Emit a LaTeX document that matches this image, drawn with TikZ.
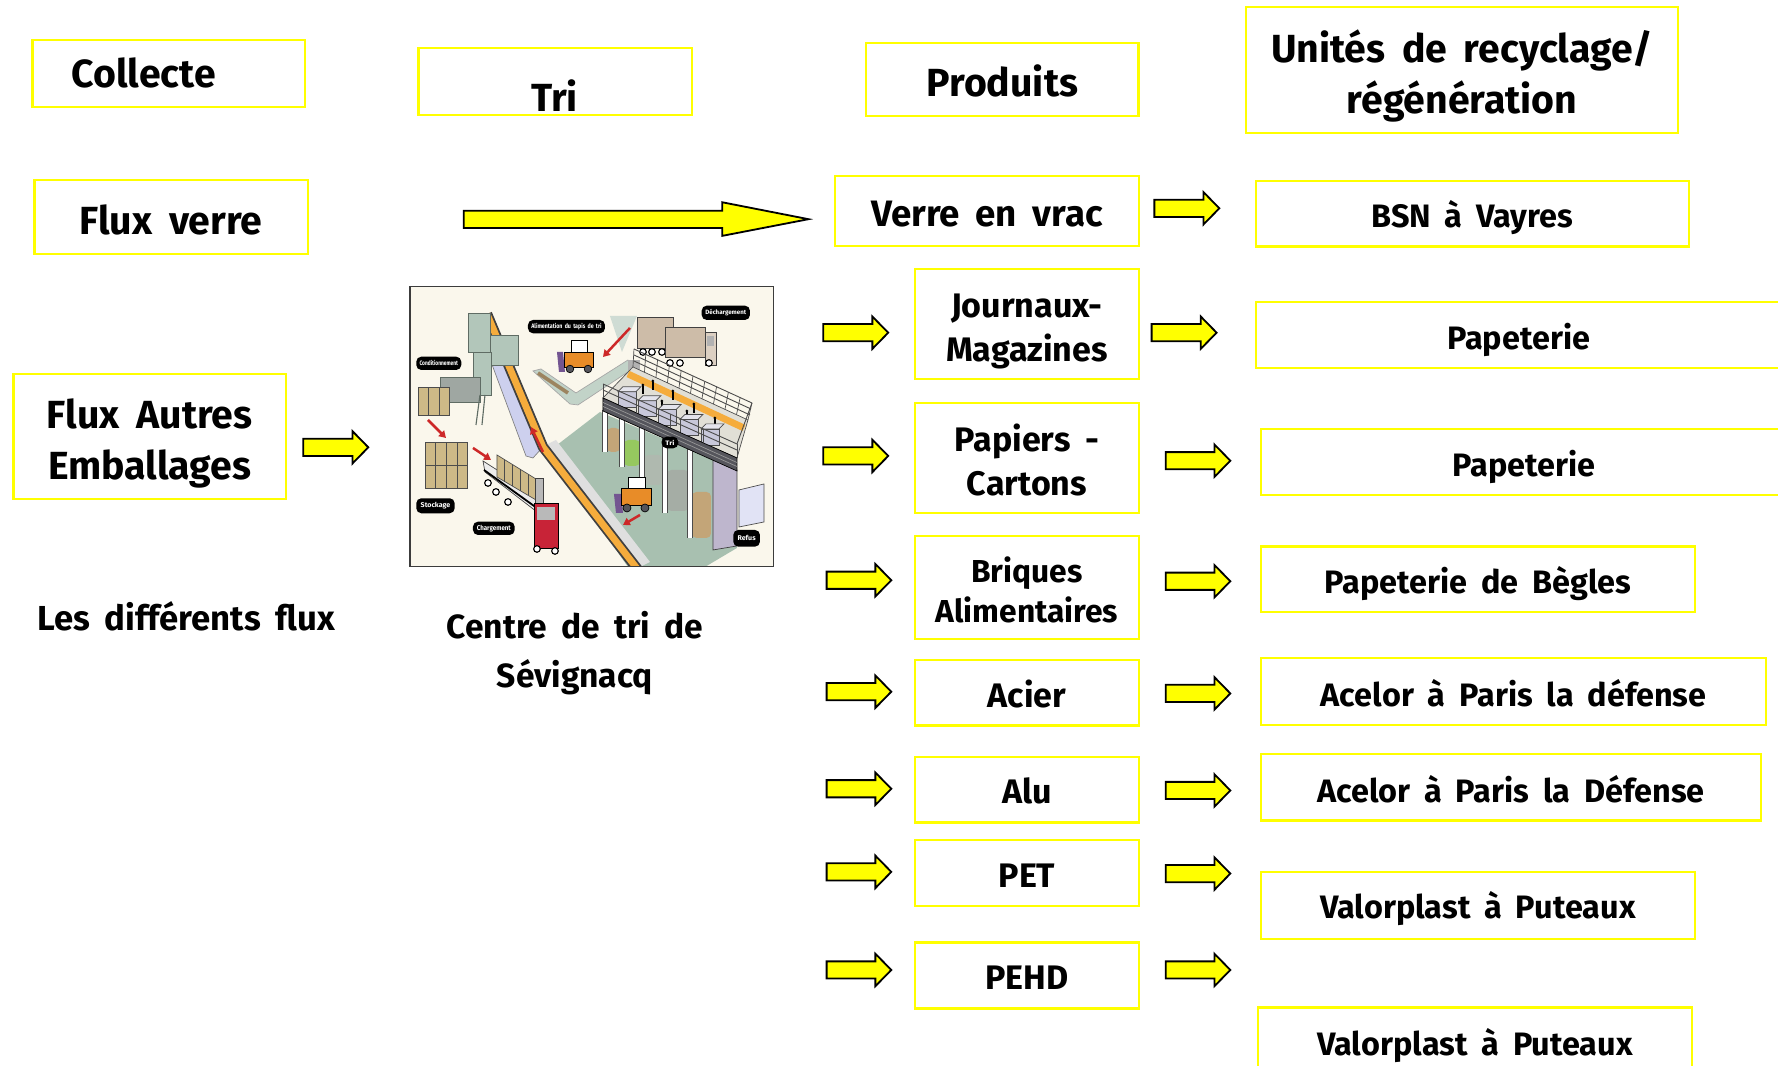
\documentclass[tikz,border=0pt]{standalone}
\usepackage{fontspec}
\setmainfont{Fira Sans}[WordSpace=1.8]
\usetikzlibrary{arrows.meta,calc}
\definecolor{byel}{RGB}{255,255,0}
\definecolor{cream}{RGB}{250,247,236}
\definecolor{floorg}{RGB}{168,192,176}
\definecolor{beltor}{RGB}{245,172,60}
\definecolor{lav}{RGB}{205,208,238}
\definecolor{mach}{RGB}{178,198,186}
\definecolor{machd}{RGB}{95,108,100}
\definecolor{bale}{RGB}{205,185,135}
\definecolor{truckb}{RGB}{205,188,168}
\definecolor{redt}{RGB}{200,35,55}
\definecolor{loador}{RGB}{232,140,40}
\definecolor{bladep}{RGB}{115,85,145}
\definecolor{deckd}{RGB}{85,85,92}
\definecolor{boxc}{RGB}{200,200,218}
\definecolor{wallc}{RGB}{190,182,205}
\definecolor{redarr}{RGB}{205,40,40}
\definecolor{pileg}{RGB}{150,200,95}
\definecolor{pilet}{RGB}{195,165,120}
\definecolor{pilegr}{RGB}{175,185,175}
\definecolor{frame}{RGB}{60,60,60}

\tikzset{
  ybox/.style={draw=byel, line width=1pt, inner sep=0pt},
  txt/.style={inner sep=0pt, align=center, text=black},
  hdr/.style={font=\fontsize{17.3}{22.4}\selectfont\bfseries},
  vrc/.style={font=\fontsize{16.2}{20}\selectfont\bfseries},
  prd/.style={font=\fontsize{15}{19.6}\selectfont\bfseries},
  brq/.style={font=\fontsize{14}{18}\selectfont\bfseries},
  dst/.style={font=\fontsize{14.3}{18}\selectfont\bfseries},
  capt/.style={font=\fontsize{15.3}{21.3}\selectfont\bfseries, align=center, inner sep=0pt},
  capc/.style={font=\fontsize{14.8}{21.3}\selectfont\bfseries, align=center, inner sep=0pt},
  arr/.style={draw=black, fill=byel, line width=0.8pt, line join=miter},
  pill/.style={fill=black, rounded corners=2.2pt, inner sep=0pt, text=white, font=\bfseries},
  redar/.style={draw=redarr, line width=1.1pt, -{Triangle[length=3pt,width=3.5pt]}},
  thinl/.style={line width=0.3pt},
  pics/barrow/.style={code={
    \draw[arr] (0,-7.6) -- ({#1-14},-7.6) -- ({#1-14},-14.3) -- (#1,0)
      -- ({#1-14},14.3) -- ({#1-14},7.6) -- (0,7.6) -- cycle;}},
}

% box from its corners, with its text shifted down by #7
\newcommand\ybox[8][]{\node[ybox,minimum width={(#5-#3)*0.5pt},minimum height={(#6-#4)*0.5pt}] (#2) at ({(#3+#5)/2},{(#4+#6)/2}) {};
\node[txt,#1] (#2-t) at ($(#2.center)+(0,#7)$) {#8};}
\newcommand\pill[7]{\node[pill, minimum width={(#4-#2)*0.44092pt}, minimum height={(#5-#3)*0.44092pt}] (#1) at ({(#2+#4)/2},{(#3+#5)/2}) {\resizebox{#6}{2.3pt}{#7}};}

\begin{document}
\begin{tikzpicture}[x=0.5pt,y=-0.5pt]
\useasboundingbox (0,0) rectangle (1568,940);
\fill[white] (0,0) rectangle (1568,940);

% ---------------- headers ----------------
\node[ybox, minimum width={240.5*0.5pt}, minimum height={59.3*0.5pt}] (bCollecte) at (149,65) {};
\node[txt, hdr] (tCollecte) at (126.6,64) {Collecte};
\node[ybox, minimum width={241.5*0.5pt}, minimum height={58.8*0.5pt}] (bTri) at (489.7,72) {};
\node[txt, hdr] (tTri) at (489,84) {Tri};
\ybox[hdr]{bProduits}{764}{38}{1004}{102}{1.5}{Produits}
\ybox[hdr]{bUnites}{1098.8}{6.5}{1480}{117.6}{5}{Unités de recyclage/\\régénération}

% ---------------- flows ----------------
\ybox[hdr]{bFluxVerre}{30.4}{158.7}{271.3}{224.3}{2.5}{Flux verre}
\ybox[hdr]{bFluxAutres}{11.8}{329.8}{252.2}{440.3}{6}{Flux Autres\\Emballages}
\node[capt, anchor=base west] (cFlux) at (32.3,555.6) {Les différents flux};
\node[capc] (cCentre) at (507,576) {Centre de tri de\\Sévignacq};

% ---------------- products ----------------
\ybox[vrc]{pVerre}{736.3}{155.2}{1004.4}{216.9}{3}{Verre en vrac}
\ybox[prd]{pJournaux}{806.9}{237.2}{1004.4}{334.5}{6.5}{Journaux-\\Magazines}
\ybox[prd]{pPapiers}{806.9}{355.1}{1004.4}{452.1}{2}{Papiers -\\Cartons}
\ybox[brq]{pBriques}{806.9}{472.8}{1004.4}{563.8}{2}{Briques\\Alimentaires}
\ybox[prd]{pAcier}{806.9}{581.9}{1004.4}{639.8}{1}{Acier}
\ybox[prd]{pAlu}{806.9}{667.3}{1004.4}{725.4}{1.5}{Alu}
\ybox[prd]{pPET}{806.9}{740.8}{1004.4}{799}{2}{PET}
\ybox[prd]{pPEHD}{806.9}{831.2}{1004.4}{889.4}{2}{PEHD}

% ---------------- destinations ----------------
\ybox[dst]{dBSN}{1107.6}{159.5}{1489.5}{217.5}{3.5}{BSN à Vayres}
\ybox[dst]{dPap1}{1107.6}{266.6}{1571}{324.8}{4}{Papeterie}
\ybox[dst]{dPap2}{1112}{378.2}{1576}{436.7}{4}{Papeterie}
\ybox[dst]{dBegles}{1112}{482}{1494.5}{540}{4}{Papeterie de Bègles}
\ybox[dst]{dAcelorA}{1112}{580.5}{1557.7}{639.3}{1.5}{Acelor à Paris la défense}
\ybox[dst]{dAcelorB}{1112}{664.8}{1552.8}{723.6}{1.5}{Acelor à Paris la Défense}
\ybox[dst]{dValorA}{1112}{769.3}{1494.5}{827.8}{3}{Valorplast à Puteaux}
\ybox[dst]{dValorB}{1109.5}{888.5}{1492}{952}{1.5}{Valorplast à Puteaux}

% ---------------- block arrows ----------------
\draw[arr] (409,185.8) -- (637,185.8) -- (637,178.4) -- (713,193.3)
  -- (637,208) -- (637,201.1) -- (409,201.1) -- cycle;
\pic (aFA) at (267.5,394.5) {barrow=57.3};
\pic (aInJ) at (726,293.4) {barrow=57.3};
\pic (aInP) at (726,402.1) {barrow=57.3};
\pic (aInB) at (729,511.7) {barrow=57};
\pic (aInAc) at (729,610) {barrow=57};
\pic (aInAl) at (729,695.6) {barrow=57};
\pic (aInPet) at (729,768.9) {barrow=57};
\pic (aInPehd) at (729,855.4) {barrow=57};
\pic (aOutV) at (1018,183.7) {barrow=57.3};
\pic (aOutJ) at (1015.6,293.4) {barrow=57.3};
\pic (aOutP) at (1028,406.3) {barrow=57};
\pic (aOutB) at (1028,512.6) {barrow=57};
\pic (aOutAc) at (1028,611.5) {barrow=57};
\pic (aOutAl) at (1028,697.1) {barrow=57};
\pic (aOutPet) at (1028,770.4) {barrow=57};
\pic (aOutPehd) at (1028,855.4) {barrow=57};

% ---------------- illustration of the sorting centre ----------------
\begin{scope}[x=0.44092pt,y=-0.44092pt]
\begin{scope}
\clip (410,287) rectangle (773,567);
\fill[cream] (410,287) rectangle (773,567);
% floor
\fill[floorg] (548,452) -- (600,412) -- (737,470) -- (737,548) -- (705,567) -- (628,567) -- cycle;
% light beam near the trucks
\fill[floorg!55] (610,316) -- (637,316) -- (622,352) -- cycle;
% feeding tray
\filldraw[fill=floorg!70, draw=gray!70, thinl] (533,371) -- (541,369) -- (576,393) -- (628,360) -- (634,368) -- (578,405) -- (570,404) -- cycle;
\draw[pilet!80!black, line width=1.6pt] (538,373) -- (568,393);
\fill[gray!60] (628,360) rectangle (640,372);
% lavender side panel of the belt
\filldraw[fill=lav, draw=gray, thinl] (474,316) -- (486,316) -- (543,447) -- (533,458) -- (526,456) -- cycle;
% ramp beside the lower belt
\fill[gray!25] (546,445) -- (556,440) -- (650,562) -- (640,567) -- cycle;
% belt
\draw[line width=4.6pt, gray!50!black] (487,314) -- (543,447) -- (642,575);
\draw[line width=3pt, beltor] (487,314) -- (543,447) -- (642,575);
% baler
\filldraw[fill=mach, draw=machd, thinl] (490,335) rectangle (518,365);
\filldraw[fill=mach, draw=machd, thinl] (468,313) rectangle (490,352);
\filldraw[fill=mach, draw=machd, thinl] (473,352) rectangle (491,395);
\filldraw[fill=machd!60, draw=machd, thinl] (440,377) rectangle (480,402);
\draw[machd, line width=0.5pt] (480,395) -- (476,425) (485,395) -- (482,425);
% bales
\foreach \i in {0,1,2} {\filldraw[fill=bale, draw=gray!60!black, thinl] ({418+10.6*\i},387) rectangle ++(10.6,28);}
\foreach \i in {0,1,2,3} {\filldraw[fill=bale, draw=gray!60!black, thinl] ({425+10.7*\i},442) rectangle ++(10.7,23);
  \filldraw[fill=bale, draw=gray!60!black, thinl] ({425+10.7*\i},465) rectangle ++(10.7,23);}
% trucks (unloading)
\filldraw[fill=truckb, draw=gray!50!black, thinl] (637,317) rectangle (673,348);
\foreach \xx in {643,652,662} {\filldraw[fill=white, draw=black, line width=0.5pt] (\xx,352) circle (3.3);}
\filldraw[fill=truckb, draw=gray!50!black, thinl] (665,327) rectangle (705,357);
\filldraw[fill=truckb!70!white, draw=gray!50!black, thinl] (705,332) rectangle (716,365);
\fill[gray!60] (707,336) rectangle (714,346);
\foreach \xx in {670,680,709} {\filldraw[fill=white, draw=black, line width=0.5pt] (\xx,363) circle (3.3);}
% loader (top)
\fill[bladep] (557,352) -- (563,352) -- (565,372) -- (559,372) -- cycle;
\filldraw[fill=loador, draw=black, thinl] (564,352) rectangle (593,367);
\filldraw[fill=white, draw=black, thinl] (571,340) rectangle (587,352);
\foreach \xx in {570,588} {\filldraw[fill=deckd, draw=black, thinl] (\xx,369) circle (3.8);}
% red arrows
\draw[redar] (428,420) -- (446,438);
\draw[redar] (473,448) -- (491,460);
\draw[redar] (543,452) -- (531,427);
\draw[redar] (630,328) -- (603,357);
\draw[redar] (640,515) -- (623,525);
% piles under the sorting deck
\fill[pilet, rounded corners=2pt] (607,428) rectangle (620,452);
\fill[pileg, rounded corners=2pt] (624,440) rectangle (640,466);
\fill[pilegr, rounded corners=2pt] (644,455) rectangle (663,485);
\fill[pilegr!80!gray, rounded corners=2pt] (667,470) rectangle (689,511);
\fill[pilet, rounded corners=2pt] (692,492) rectangle (711,538);
% posts
\foreach \xx/\ya/\yb in {605/410/452, 622/418/467, 642/427/486, 665/437/513, 690/448/538} {
  \draw[gray!60!black, line width=2.4pt] (\xx,\ya) -- (\xx,\yb);
  \draw[white, line width=1.5pt] (\xx,\ya) -- (\xx,\yb);}
% side wall
\filldraw[fill=wallc, draw=gray!50!black, thinl] (713,459) -- (737,470) -- (737,546) -- (713,550) -- cycle;
% deck top
\filldraw[fill=cream!80!gray, draw=gray!60!black, thinl] (603,398) -- (633,367) -- (748,420) -- (737,458) -- cycle;
\draw[beltor, line width=3pt] (628,374) -- (744,428);
% back railing
\foreach \t in {0,0.1,...,1.01} {\draw[gray!60!black, thinl] ($(634,349)!\t!(752,403)$) -- ($(633,367)!\t!(748,420)$);}
\draw[gray!60!black, line width=0.4pt] (634,349) -- (752,403) (634,355) -- (751,409) (634,361) -- (750,415);
% workers
\foreach \p in {(643,385),(653,381),(662,401),(673,391),(687,411),(694,404),(707,427),(715,418)} {
  \fill[black] \p circle (1.5);
  \draw[black, line width=1.1pt] \p ++(0,1.5) -- ++(0,8);}
% bins on the deck
\foreach \bx/\by in {618/391.7, 638/400.7, 658/409.6, 680/419.5, 701/428.9} {
  \filldraw[fill=boxc, draw=gray!60!black, thinl] (\bx,\by) rectangle ++(18,16);
  \filldraw[fill=boxc!50!white, draw=gray!60!black, thinl] (\bx,\by) -- ++(5,-5) -- ++(18,0) -- ++(-5,5) -- cycle;}
% front face of the deck
\filldraw[fill=deckd, draw=black, thinl] (603,398) -- (737,458) -- (737,471) -- (603,411) -- cycle;
\draw[gray!80, thinl] (603,402.5) -- (737,462.5) (603,406.5) -- (737,466.5);
% front railing
\draw[gray!60!black, line width=0.4pt] (603,384) -- (737,444) (603,390) -- (737,450);
\foreach \t in {0,0.25,...,1.01} {\draw[gray!60!black, thinl] ($(603,384)!\t!(737,444)$) -- ($(603,398)!\t!(737,458)$);}
\draw[gray!60!black, line width=0.4pt] (737,444) -- (752,403);
% refuse bin
\filldraw[fill=lav!60!white, draw=gray!60!black, thinl] (739,490) -- (764,484) -- (764,522) -- (739,527) -- cycle;
% loader (bottom)
\fill[bladep] (614,494) -- (621,494) -- (623,513) -- (616,513) -- cycle;
\filldraw[fill=loador, draw=black, thinl] (621,488) rectangle (651,505);
\filldraw[fill=white, draw=black, thinl] (628,477) rectangle (645,488);
\foreach \xx in {627,645} {\filldraw[fill=deckd, draw=black, thinl] (\xx,508) circle (4);}
% red truck with trailer
\filldraw[fill=gray!15, draw=gray!50!black, thinl] (483,461) -- (541,498) -- (541,515) -- (485,472) -- cycle;
\draw[black, line width=0.8pt] (484,470) -- (541,511);
\filldraw[fill=bale, draw=gray!60!black, thinl] (497,455) -- (536,479) -- (536,500) -- (497,477) -- cycle;
\foreach \t in {0.2,0.4,0.6,0.8} {\draw[gray!60!black, thinl] ($(497,455)!\t!(536,479)$) -- ($(497,477)!\t!(536,500)$);}
\filldraw[fill=gray!55, draw=gray!50!black, thinl] (535,478) rectangle (543,512);
\filldraw[fill=redt, draw=black, thinl] (534,503) rectangle (558,548);
\fill[gray!55] (537,507) rectangle (555,520);
\foreach \xx/\yy in {488/483, 496/492, 508/502, 537/549, 555/551} {\filldraw[fill=white, draw=black, line width=0.5pt] (\xx,\yy) circle (3.3);}
% labels
\pill{lCond}{416.3}{356.7}{461.3}{370}{17pt}{Conditionnement}
\pill{lAlim}{528}{320}{605}{333.3}{31pt}{Alimentation du tapis de tri}
\pill{lDech}{701.7}{305.7}{750}{320}{18pt}{Déchargement}
\pill{lStock}{416.3}{498.3}{454.7}{513.3}{13pt}{Stockage}
\pill{lCharg}{473}{521.7}{514.7}{535}{15pt}{Chargement}
\pill{lTri}{661.7}{436.7}{678.3}{448.3}{4pt}{Tri}
\pill{lRefus}{733.3}{530}{760}{546.7}{8pt}{Refus}
\end{scope}
\node[draw=frame, line width=0.7pt, minimum width={363.4*0.44092pt}, minimum height={280*0.44092pt}, inner sep=0pt] (img) at (591.7,426.7) {};
\end{scope}
\end{tikzpicture}
\end{document}
